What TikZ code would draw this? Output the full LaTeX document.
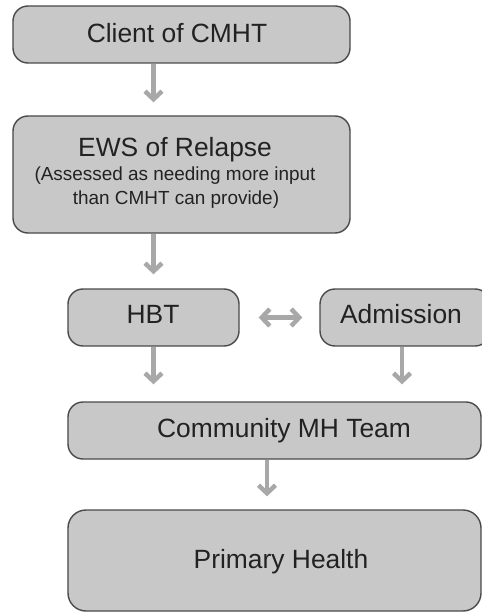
\documentclass[tikz,border=0pt]{standalone}
\usepackage{fontspec}
\setmainfont{Liberation Sans}
\usetikzlibrary{arrows.meta,calc}

\definecolor{boxfill}{HTML}{C8C8C8}
\definecolor{boxline}{HTML}{4A4A4A}
\definecolor{arrowgray}{HTML}{A8A8A8}
\definecolor{textcol}{HTML}{222222}

\tikzset{
  stagebox/.style={draw=boxline, fill=boxfill, line width=1.4bp,
    rounded corners=15bp, inner sep=0pt},
  maintext/.style={anchor=base, inner sep=0pt, text=textcol,
    font=\fontsize{26.5}{30}\selectfont},
  subtext/.style={anchor=base, inner sep=0pt, text=textcol,
    font=\fontsize{19}{23}\selectfont},
  barb/.tip={Straight Barb[length=8bp,width=17bp,line width=4.5bp]},
  flow/.style={draw=arrowgray, line width=4.5bp, -barb},
  twoway/.style={draw=arrowgray, line width=4.5bp, barb-barb}
}

\begin{document}
\begin{tikzpicture}[x=1bp, y=-1bp]
  \useasboundingbox[fill=white] (0,0) rectangle (482,612);

  % stage boxes
  \node[stagebox, minimum width=337bp, minimum height=57bp]  (client) at (181.5,34.5) {};
  \node[stagebox, minimum width=337bp, minimum height=117bp] (ews)    at (181.5,174.5) {};
  \node[stagebox, minimum width=171bp, minimum height=57bp]  (hbt)    at (153.5,317.5) {};
  \node[stagebox, minimum width=170bp, minimum height=57bp]  (adm)    at (405,317.5) {};
  \node[stagebox, minimum width=413bp, minimum height=57bp]  (cmh)    at (274.5,430.5) {};
  \node[stagebox, minimum width=413bp, minimum height=101bp, rounded corners=18bp] (ph) at (274.5,560.5) {};

  % box labels
  \node[maintext] (clientT) at (177,43)  {Client of CMHT};
  \node[maintext] (ewsT)    at (175,157) {EWS of Relapse};
  \node[subtext]  (ewsS1)   at (175,181) {(Assessed as needing more input};
  \node[subtext]  (ewsS2)   at (176,204) {than CMHT can provide)};
  \node[maintext] (hbtT)    at (153,323) {HBT};
  \node[maintext] (admT)    at (401,323) {Admission};
  \node[maintext] (cmhT)    at (284,437) {Community MH Team};
  \node[maintext] (phT)     at (281,568) {Primary Health};

  % connectors
  \coordinate (admOut) at ($(adm.south)+(-3,0)$);
  \coordinate (cmhOut) at ($(cmh.south)+(-7.5,0)$);
  \draw[flow, shorten >=13bp] (hbt |- client.south) -- (hbt |- ews.north);
  \draw[flow, shorten >=14bp] (hbt |- ews.south) -- (hbt.north);
  \draw[flow, shorten >=17bp] (hbt.south) -- (hbt |- cmh.north);
  \draw[flow, shorten >=17bp] (admOut) -- (admOut |- cmh.north);
  \draw[flow, shorten >=13bp] (cmhOut) -- (cmhOut |- ph.north);
  \draw[twoway, shorten <=19bp, shorten >=17bp] (hbt.east) -- (adm.west);
\end{tikzpicture}
\end{document}
